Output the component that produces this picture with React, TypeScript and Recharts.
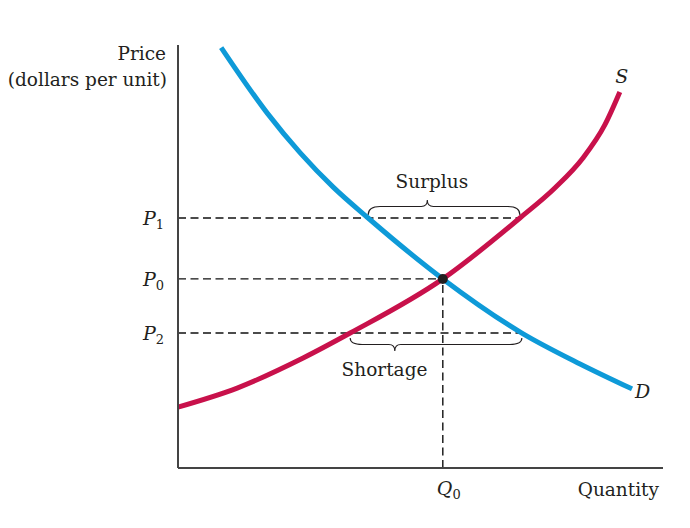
import { LineChart, Line, XAxis, YAxis, ReferenceLine, ReferenceDot, Label, LabelList } from 'recharts';

// supply curve S
const supplyQty = [0, 12.2, 25.8, 35.5, 54.6, 70.5, 77.7, 83.5, 88.0, 91.1];
const supplyPrice = [14.4, 18.9, 26.0, 31.9, 44.7, 59.1, 66.2, 73.3, 81.1, 88.9];
// demand curve D
const demandQty = [8.9, 18.4, 25.2, 32.0, 39.2, 54.6, 70.9, 82.9, 93.6];
const demandPrice = [99.4, 83.9, 74.5, 66.4, 59.1, 44.7, 31.9, 24.6, 18.7];

const priceTicks = [31.9, 44.7, 59.1];
const priceNames = ['2', '0', '1'];
const Q0 = 54.6;
const P0 = 44.7;
const P1 = 59.1;
const P2 = 31.9;
// where P1 / P2 meet the curves
const surplusFrom = 39.2;
const surplusTo = 70.5;
const shortageFrom = 35.5;
const shortageTo = 70.9;

const supplyData = supplyQty.map((q, i) => ({ q, p: supplyPrice[i] }));
const demandData = demandQty.map((q, i) => ({ q, p: demandPrice[i] }));

const FONT = '"DejaVu Serif", serif';
const INK = '#231f20';
const RED = '#c8114b';
const BLUE = '#0e9ad8';
const dash = { stroke: '#111', strokeWidth: 1.4, strokeDasharray: '8 4.5' };

const PriceTick = (props: any) => {
  const { x, y, payload } = props;
  const sub = priceNames[priceTicks.indexOf(payload.value)];
  return (
    <text x={x - 14} y={y + 7} textAnchor="end" fontFamily={FONT} fill={INK} fontSize={19}>
      <tspan fontStyle="italic">P</tspan>
      <tspan fontSize={13} dy={4}>{sub}</tspan>
    </text>
  );
};

const QtyTick = (props: any) => {
  const { x, y } = props;
  return (
    <text x={x - 6} y={y + 27} textAnchor="start" fontFamily={FONT} fill={INK} fontSize={19}>
      <tspan fontStyle="italic">Q</tspan>
      <tspan fontSize={13} dy={4}>0</tspan>
    </text>
  );
};

// curly brace drawn along a price segment; dir -1 = above, 1 = below
const brace = (dir: number, tipAt: number, text: string, textAt: number) => (props: any) => {
  const { x1, x2, y1 } = props;
  const a = Math.min(x1, x2);
  const b = Math.max(x1, x2);
  const y0 = y1 + dir * (dir < 0 ? 3 : 5);
  const yb = y1 + dir * 11.5;
  const yt = y1 + dir * 18;
  const tx = a + (b - a) * tipAt;
  const r = 12;
  const d = `M${a},${y0} Q${a},${yb} ${a + r},${yb} L${tx - 6},${yb} Q${tx},${yb} ${tx},${yt} Q${tx},${yb} ${tx + 6},${yb} L${b - r},${yb} Q${b},${yb} ${b},${y0}`;
  const lx = a + (b - a) * textAt;
  const ly = dir < 0 ? y1 - 30 : y1 + 43;
  return (
    <g>
      <path d={d} fill="none" stroke={INK} strokeWidth={1.1} />
      <text x={lx} y={ly} textAnchor="middle" fontFamily={FONT} fontSize={18.5} fill={INK}>{text}</text>
    </g>
  );
};

const endLabel = (name: string, last: number, dx: number, dy: number, anchor: string) => (props: any) => {
  if (props.index !== last) return null;
  return (
    <text x={props.x + dx} y={props.y + dy} textAnchor={anchor} fontFamily={FONT} fontStyle="italic" fontSize={19} fill={INK}>
      {name}
    </text>
  );
};

export default function App() {
  return (
    <div style={{ position: 'absolute', left: 0, top: 0, background: '#fff' }}>
      <LineChart width={690} height={528} margin={{ top: 45, right: 27, bottom: 20, left: 118 }}>
        <XAxis
          type="number"
          dataKey="q"
          domain={[0, 100]}
          ticks={[Q0]}
          tick={<QtyTick />}
          tickLine={false}
          tickSize={0}
          tickMargin={0}
          height={40}
          axisLine={{ stroke: '#444', strokeWidth: 2 }}
        >
          <Label
            content={() => (
              <text x={659} y={496} textAnchor="end" fontFamily={FONT} fontSize={18.5} fill={INK}>Quantity</text>
            )}
          />
        </XAxis>
        <YAxis
          type="number"
          domain={[0, 100]}
          ticks={priceTicks}
          tick={<PriceTick />}
          tickLine={false}
          tickSize={0}
          tickMargin={0}
          width={60}
          axisLine={{ stroke: '#444', strokeWidth: 2 }}
        >
          <Label
            content={() => (
              <g fontFamily={FONT} fontSize={18.5} fill={INK}>
                <text x={166} y={60} textAnchor="end">Price</text>
                <text x={167} y={86} textAnchor="end">(dollars per unit)</text>
              </g>
            )}
          />
        </YAxis>

        <ReferenceLine segment={[{ x: 0, y: P1 }, { x: surplusTo, y: P1 }]} {...dash} />
        <ReferenceLine segment={[{ x: 0, y: P0 }, { x: Q0, y: P0 }]} {...dash} />
        <ReferenceLine segment={[{ x: 0, y: P2 }, { x: shortageTo, y: P2 }]} {...dash} />
        <ReferenceLine segment={[{ x: Q0, y: 0 }, { x: Q0, y: P0 }]} {...dash} />

        <ReferenceLine
          segment={[{ x: surplusFrom, y: P1 }, { x: surplusTo, y: P1 }]}
          shape={brace(-1, 0.39, 'Surplus', 0.42)}
        />
        <ReferenceLine
          segment={[{ x: shortageFrom, y: P2 }, { x: shortageTo, y: P2 }]}
          shape={brace(1, 0.26, 'Shortage', 0.2)}
        />

        <Line data={supplyData} dataKey="p" type="monotone" stroke={RED} strokeWidth={5} dot={false} isAnimationActive={false}>
          <LabelList content={endLabel('S', supplyData.length - 1, 2, -9, 'middle')} />
        </Line>
        <Line data={demandData} dataKey="p" type="monotone" stroke={BLUE} strokeWidth={5} dot={false} isAnimationActive={false}>
          <LabelList content={endLabel('D', demandData.length - 1, 3, 9, 'start')} />
        </Line>

        <ReferenceDot x={Q0} y={P0} r={5} fill={INK} stroke="none" />
      </LineChart>
    </div>
  );
}
